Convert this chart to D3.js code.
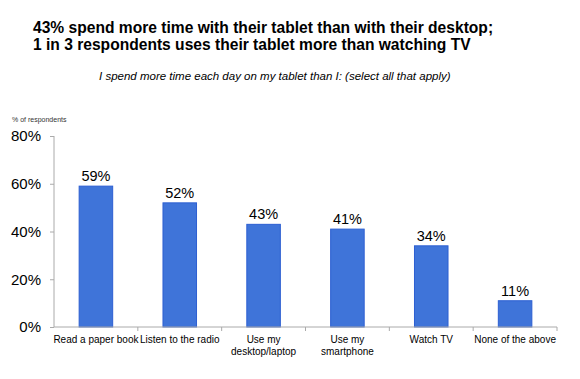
<!DOCTYPE html>
<html>
<head>
<meta charset="utf-8">
<script src="https://cdn.jsdelivr.net/npm/d3@7"></script>
<style>
  body { margin: 0; background: #fff; }
  svg { font-family: "Liberation Sans", Arial, sans-serif; }
  .axis path, .axis line { stroke: #aaa; }
</style>
</head>
<body>
<div id="chart"></div>
<script>
// data
var categories = ["Read a paper book", "Listen to the radio", "Use my\ndesktop/laptop", "Use my\nsmartphone", "Watch TV", "None of the above"];
var values = [59, 52, 43, 41, 34, 11];
var yTicks = [0, 20, 40, 60, 80];

var width = 580,
    height = 379;
var margin = {top: 136, right: 23, bottom: 52, left: 54};

var svg = d3.select("#chart").append("svg")
    .attr("width", width)
    .attr("height", height);

// titles
svg.append("text")
    .attr("x", 33).attr("y", 33)
    .style("font-size", "15.6px").style("font-weight", "bold")
    .text("43% spend more time with their tablet than with their desktop;");
svg.append("text")
    .attr("x", 33).attr("y", 50)
    .style("font-size", "15.6px").style("font-weight", "bold")
    .text("1 in 3 respondents uses their tablet more than watching TV");
svg.append("text")
    .attr("x", 99).attr("y", 80)
    .style("font-size", "11.5px").style("font-style", "italic")
    .text("I spend more time each day on my tablet than I: (select all that apply)");
svg.append("text")
    .attr("x", 12).attr("y", 122)
    .style("font-size", "7px").attr("fill", "#333")
    .text("% of respondents");

var x = d3.scaleBand()
    .domain(categories)
    .range([margin.left, width - margin.right])
    .paddingInner(0.6)
    .paddingOuter(0.3);

var xAxisScale = d3.scaleBand()
    .domain(categories)
    .range([margin.left, width - margin.right]);

var y = d3.scaleLinear()
    .domain([0, 80])
    .range([height - margin.bottom, margin.top]);

// y axis
var yAxis = svg.append("g")
    .attr("class", "axis")
    .attr("transform", "translate(" + margin.left + ",0)")
    .call(d3.axisLeft(y).tickValues(yTicks).tickSize(4).tickSizeOuter(0).tickPadding(9)
        .tickFormat(function(d) { return d + "%"; }));
yAxis.selectAll("text").style("font-size", "15px").attr("fill", "#000");
yAxis.select(".domain").attr("d", "M0," + y(80) + "V" + y(0));

// bars
svg.selectAll(".bar")
    .data(values)
    .enter().append("rect")
    .attr("class", "bar")
    .attr("x", function(d, i) { return x(categories[i]); })
    .attr("width", x.bandwidth())
    .attr("y", function(d) { return y(d); })
    .attr("height", function(d) { return y(0) - y(d); })
    .attr("fill", "#3f74d9")
    .attr("stroke", "#2c5fd2")
    .attr("stroke-width", 1);

svg.selectAll(".val")
    .data(values)
    .enter().append("text")
    .attr("class", "val")
    .attr("x", function(d, i) { return x(categories[i]) + x.bandwidth() / 2; })
    .attr("y", function(d) { return y(d) - 5; })
    .attr("text-anchor", "middle")
    .style("font-size", "14.5px")
    .text(function(d) { return d + "%"; });

// x axis with ticks at band boundaries
var xg = svg.append("g")
    .attr("class", "axis")
    .attr("transform", "translate(0," + y(0) + ")");
xg.append("path")
    .attr("d", "M" + margin.left + ",0H" + (width - margin.right))
    .attr("stroke", "#aaa").attr("fill", "none");
xg.selectAll(".tk")
    .data(categories)
    .enter().append("line")
    .attr("x1", function(d) { return xAxisScale(d) + xAxisScale.bandwidth(); })
    .attr("x2", function(d) { return xAxisScale(d) + xAxisScale.bandwidth(); })
    .attr("y1", 0).attr("y2", 4);

var labels = xg.selectAll(".lbl")
    .data(categories)
    .enter().append("text")
    .attr("class", "lbl")
    .attr("text-anchor", "middle")
    .attr("transform", function(d) { return "translate(" + (xAxisScale(d) + xAxisScale.bandwidth() / 2) + ",16)"; })
    .style("font-size", "10px");
labels.selectAll("tspan")
    .data(function(d) { return d.split("\n"); })
    .enter().append("tspan")
    .attr("x", 0)
    .attr("dy", function(d, i) { return i ? 12 : 0; })
    .text(function(d) { return d; });
</script>
</body>
</html>
